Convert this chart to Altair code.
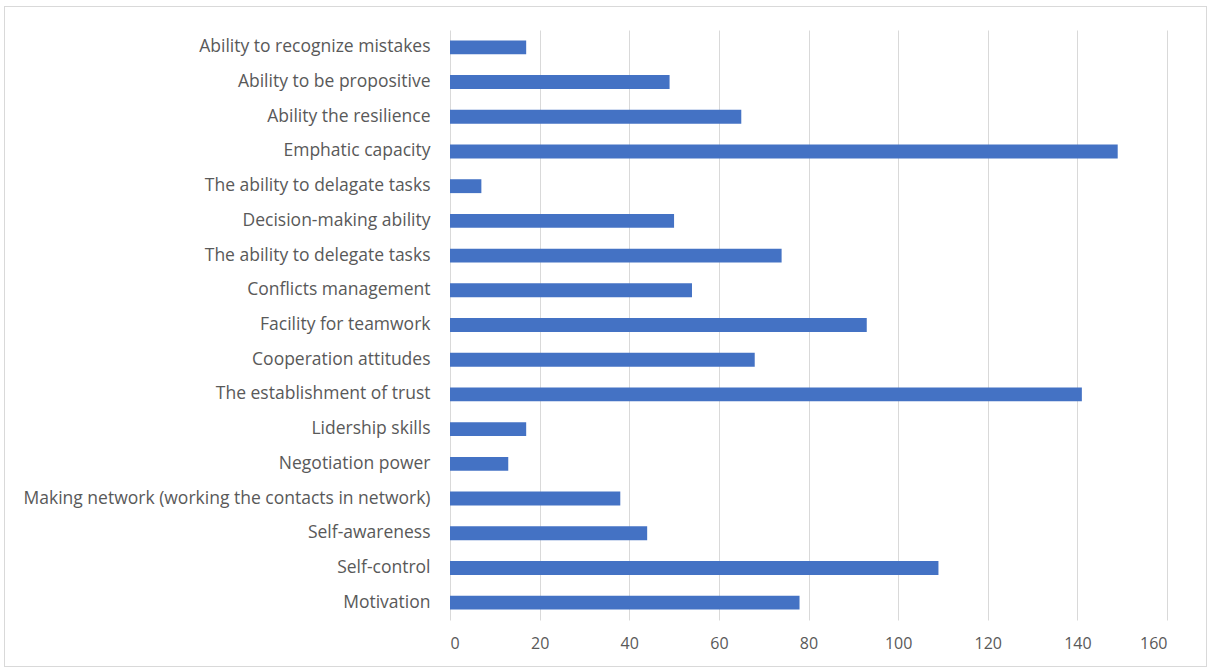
import altair as alt
import pandas as pd

categories = [
    "Ability to recognize mistakes",
    "Ability to be propositive",
    "Ability the resilience",
    "Emphatic capacity",
    "The ability to delagate tasks",
    "Decision-making ability",
    "The ability to delegate tasks",
    "Conflicts management",
    "Facility for teamwork",
    "Cooperation attitudes",
    "The establishment of trust",
    "Lidership skills",
    "Negotiation power",
    "Making network (working the contacts in network)",
    "Self-awareness",
    "Self-control",
    "Motivation",
]
values = [17, 49, 65, 149, 7, 50, 74, 54, 93, 68, 141, 17, 13, 38, 44, 109, 78]
x_ticks = [0, 20, 40, 60, 80, 100, 120, 140, 160]

df = pd.DataFrame({"skill": categories, "count": values})

FONT = "Open Sans"
GRAY = "#595959"

bars = alt.Chart(df).mark_bar(color="#4472C4").encode(
    x=alt.X("count:Q", scale=alt.Scale(domain=[0, 160], nice=False),
            axis=alt.Axis(values=x_ticks, title=None, grid=True, gridColor="#d9d9d9",
                          domain=False, ticks=False, labelPadding=15,
                          labelColor=GRAY, labelFont=FONT, labelFontSize=16)),
    y=alt.Y("skill:N", sort=categories,
            scale=alt.Scale(paddingInner=0.6, paddingOuter=0.3),
            axis=alt.Axis(title=None, domain=False, ticks=False, labelPadding=20,
                          labelColor=GRAY, labelFont=FONT, labelFontSize=17.5,
                          labelLimit=600)),
)

frame = alt.Chart(df).mark_rect(fill=None, stroke="#d9d9d9", strokeWidth=1).encode(
    x=alt.value(-445.5), x2=alt.value(756.5), y=alt.value(-23.5), y2=alt.value(636.5)
)

chart = alt.layer(frame, bars).properties(
    width=717, height=590,
    padding={"left": 450, "top": 30, "right": 45, "bottom": 51},
    autosize=alt.AutoSizeParams(type="none"),
    background="white",
).configure_view(stroke=None)

chart.save("out.html", embed_options={"renderer": "svg", "actions": False})
